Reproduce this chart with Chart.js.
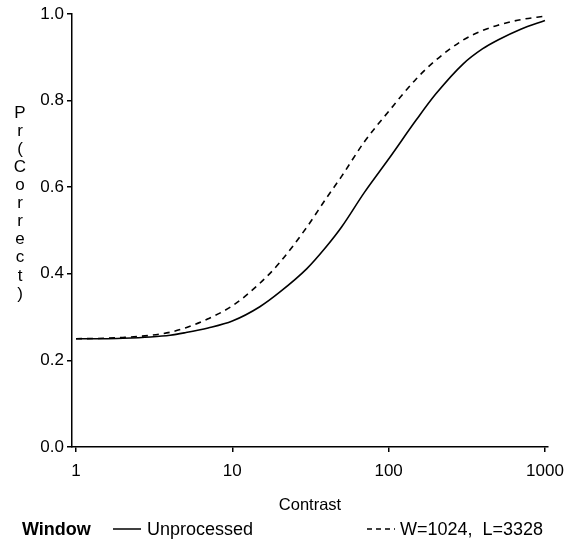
<!DOCTYPE html>
<html><head><meta charset="utf-8">
<script src="https://cdn.jsdelivr.net/npm/chart.js@4/dist/chart.umd.min.js"></script>
<style>html,body{margin:0;padding:0;background:#fff;}#wrap{width:573px;height:546px;position:relative;}</style>
</head><body><div id="wrap"><canvas id="c" width="573" height="546"></canvas></div>
<script>
// ---- data ----
const contrast    = [1, 1.5, 2, 3, 4, 5, 7, 10, 15, 20, 30, 40, 50, 70, 100, 150, 200, 300, 400, 500, 700, 1000];
const unprocessed = [0.250, 0.250, 0.251, 0.254, 0.258, 0.264, 0.275, 0.291, 0.324, 0.357, 0.412, 0.463, 0.508, 0.588, 0.665, 0.755, 0.815, 0.885, 0.920, 0.940, 0.965, 0.985];
const windowed    = [0.250, 0.251, 0.253, 0.258, 0.265, 0.275, 0.296, 0.326, 0.378, 0.425, 0.508, 0.575, 0.625, 0.705, 0.775, 0.850, 0.893, 0.940, 0.962, 0.974, 0.987, 0.995];
const xTicks = [1, 10, 100, 1000];
const yTicks = [0, 0.2, 0.4, 0.6, 0.8, 1.0];
const yTitleChars = ['P','r','(','C','o','r','r','e','c','t',')'];
const seriesLabels = ['Unprocessed', 'W=1024,  L=3328'];
const legendTitle = 'Window';
const xTitle = 'Contrast';

const FONT = '"Liberation Sans", Arial, Helvetica, sans-serif';

const toPts = (ys) => contrast.map((c, i) => ({x: c, y: ys[i]}));

const decor = {
  id: 'decor',
  afterDraw(chart) {
    const ctx = chart.ctx;
    ctx.save();
    ctx.fillStyle = '#000';
    ctx.strokeStyle = '#000';
    // stacked y-axis title
    ctx.font = '17px ' + FONT;
    ctx.textAlign = 'center';
    ctx.textBaseline = 'middle';
    yTitleChars.forEach((ch, i) => ctx.fillText(ch, 20, 113 + i * 18.1));
    // legend
    const ly = 530;
    ctx.textAlign = 'left';
    ctx.font = 'bold 18px ' + FONT;
    ctx.fillText(legendTitle, 22, ly);
    ctx.font = '18px ' + FONT;
    ctx.lineWidth = 1.5;
    ctx.beginPath(); ctx.setLineDash([]); ctx.moveTo(113, ly - 1); ctx.lineTo(141, ly - 1); ctx.stroke();
    ctx.fillText(seriesLabels[0], 147, ly);
    ctx.beginPath(); ctx.setLineDash([5, 4]); ctx.moveTo(367, ly - 1); ctx.lineTo(395, ly - 1); ctx.stroke();
    ctx.setLineDash([]);
    ctx.fillText(seriesLabels[1], 400, ly);
    ctx.restore();
  }
};

new Chart(document.getElementById('c'), {
  type: 'line',
  data: {
    datasets: [
      { label: seriesLabels[0], data: toPts(unprocessed), borderColor: '#000', borderWidth: 1.6,
        pointRadius: 0, cubicInterpolationMode: 'monotone', fill: false },
      { label: seriesLabels[1], data: toPts(windowed), borderColor: '#000', borderWidth: 1.6,
        borderDash: [6, 5], pointRadius: 0, cubicInterpolationMode: 'monotone', fill: false }
    ]
  },
  options: {
    responsive: false,
    animation: false,
    devicePixelRatio: 1,
    layout: { padding: { top: 14, right: 21, left: 0, bottom: 0 } },
    plugins: { legend: { display: false }, tooltip: { enabled: false } },
    scales: {
      x: {
        type: 'logarithmic', min: 0.943, max: 1045,
        afterBuildTicks: (s) => { s.ticks = xTicks.map(v => ({ value: v })); },
        afterFit: (s) => { s.height = 99; },
        ticks: { callback: (v) => String(v), color: '#000', font: { size: 17, family: FONT },
                 padding: 9, maxRotation: 0, autoSkip: false },
        grid: { drawOnChartArea: false, drawTicks: true, tickLength: 5, color: '#000', lineWidth: 1.5 },
        border: { display: true, color: '#000', width: 1.5 },
        title: { display: true, text: xTitle, color: '#000', font: { size: 16.5, family: FONT },
                 padding: { top: 0, bottom: 31 } }
      },
      y: {
        min: 0, max: 1,
        afterBuildTicks: (s) => { s.ticks = yTicks.map(v => ({ value: v })); },
        afterFit: (s) => { s.width = 72; },
        ticks: { callback: (v) => Number(v).toFixed(1), color: '#000', font: { size: 17, family: FONT }, padding: 3 },
        grid: { drawOnChartArea: false, drawTicks: true, tickLength: 5, color: '#000', lineWidth: 1.5 },
        border: { display: true, color: '#000', width: 1.5 }
      }
    }
  },
  plugins: [decor]
});
</script>
</body></html>
